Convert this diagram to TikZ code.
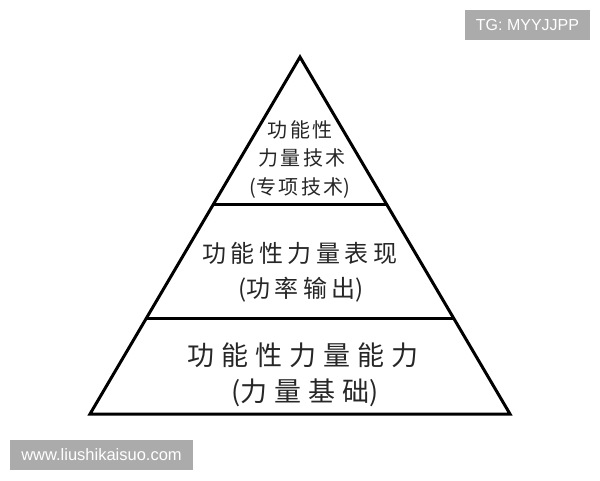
\documentclass[tikz,border=0pt]{standalone}
\usepackage{fontspec}
\setmainfont{Liberation Sans}
\newfontfamily\cjk{Noto Sans CJK SC}
\tikzset{
  edge/.style={line width=3pt, line join=miter, black},
  lab/.style={inner sep=0pt, font=\cjk, text=black!85},
  wm/.style={fill=black!33, text=white, inner sep=0pt}
}
\begin{document}
\begin{tikzpicture}[x=1pt,y=-1pt]
\useasboundingbox (0,0) rectangle (600,480);
% pyramid corners
\coordinate (apex) at (300,57);
\coordinate (bl) at (90,414);
\coordinate (br) at (510,414);
\coordinate (l1) at (213.5,204);
\coordinate (r1) at (386.5,204);
\coordinate (l2) at (146.5,318);
\coordinate (r2) at (453.5,318);
\draw[edge] (apex) -- (br) -- (bl) -- cycle;
\draw[edge] (l1) -- (r1);
\draw[edge] (l2) -- (r2);
% top tier
\node[lab, font=\cjk\fontsize{20}{24}\selectfont] (t1) at (300,130) {功\kern2.5pt 能\kern2.5pt 性};
\node[lab, font=\cjk\fontsize{20}{24}\selectfont] (t2) at (302,158) {力\kern2.5pt 量\kern2.5pt 技\kern2.5pt 术};
\node[lab, font=\cjk\fontsize{20}{24}\selectfont] (t3) at (300,188) {(专\kern2.5pt 项\kern2.5pt 技\kern2.5pt 术)};
% middle tier
\node[lab, font=\cjk\fontsize{24}{28}\selectfont] (m1) at (300,253) {功\kern4.5pt 能\kern4.5pt 性\kern4.5pt 力\kern4.5pt 量\kern4.5pt 表\kern4.5pt 现};
\node[lab, font=\cjk\fontsize{24}{28}\selectfont] (m2) at (301,290) {(功\kern4.5pt 率\kern4.5pt 输\kern4.5pt 出)};
% bottom tier
\node[lab, font=\cjk\fontsize{27}{32}\selectfont] (b1) at (303,355) {功\kern7pt 能\kern7pt 性\kern7pt 力\kern7pt 量\kern7pt 能\kern7pt 力};
\node[lab, font=\cjk\fontsize{27}{32}\selectfont] (b2) at (305,393) {(力\kern7pt 量\kern7pt 基\kern7pt 础)};
% watermarks
\node[wm, font=\fontsize{16}{19}\selectfont, minimum width=125pt, minimum height=30pt] (tg) at (527.5,25) {TG: MYYJJPP};
\node[wm, font=\fontsize{16.5}{19}\selectfont, minimum width=183pt, minimum height=30pt] (www) at (101.5,455) {www.liushikaisuo.com};
\end{tikzpicture}
\end{document}
